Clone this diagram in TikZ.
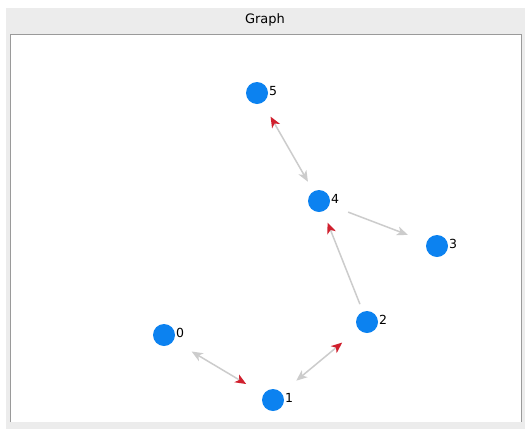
\documentclass[tikz,border=0pt]{standalone}
\usepackage{fontspec}
\setmainfont{DejaVu Sans}
\usetikzlibrary{arrows.meta}
\definecolor{panel}{HTML}{ECECEC}
\definecolor{frame}{HTML}{9A9A9A}
\definecolor{nodeblue}{RGB}{12,130,240}
\definecolor{edgegray}{HTML}{CCCCCC}
\definecolor{tipred}{HTML}{D0202E}
\tikzset{
  vert/.style={circle, fill=nodeblue, minimum size=22pt, inner sep=0pt},
  vlabel/.style={font=\fontsize{12.5}{14}\selectfont, inner sep=0pt, anchor=west},
  edge/.style={draw=edgegray, line width=1.5pt},
  gtip/.tip={Stealth[length=11pt, width=9pt, inset=3pt, color=edgegray]},
  rtip/.tip={Stealth[length=11pt, width=9pt, inset=3pt, color=tipred]},
}
\begin{document}
\begin{tikzpicture}[x=1pt, y=-1pt]
\useasboundingbox (0,0) rectangle (530,429);
\fill[white] (0,0) rectangle (530,429);
\fill[panel] (6,8) rectangle (525,429);
\fill[white] (10,34) rectangle (521,422);
\draw[frame, line width=0.8pt] (10,422) -- (10,34) -- (521,34) -- (521,422);
\node[font=\fontsize{13}{15}\selectfont] (title) at (265,20) {Graph};

\node[vert] (n5) at (257,93) {};
\node[vert] (n4) at (319,201) {};
\node[vert] (n3) at (437,246) {};
\node[vert] (n2) at (367,322) {};
\node[vert] (n0) at (164,335) {};
\node[vert] (n1) at (273,400) {};

\node[vlabel] (l5) at (269,91) {5};
\node[vlabel] (l4) at (331,199) {4};
\node[vlabel] (l3) at (449,244) {3};
\node[vlabel] (l2) at (379,320) {2};
\node[vlabel] (l0) at (176,333) {0};
\node[vlabel] (l1) at (285,398) {1};

\draw[edge, rtip-gtip, shorten <=16pt, shorten >=11pt] (n5) -- (n4);
\draw[edge, -gtip, shorten <=20pt, shorten >=20pt] (n4) -- (n3);
\draw[edge, -rtip, shorten <=8pt, shorten >=12pt] (n2) -- (n4);
\draw[edge, gtip-rtip, shorten <=21pt, shorten >=20pt] (n0) -- (n1);
\draw[edge, gtip-rtip, shorten <=19pt, shorten >=21pt] (n1) -- (n2);
\end{tikzpicture}
\end{document}
